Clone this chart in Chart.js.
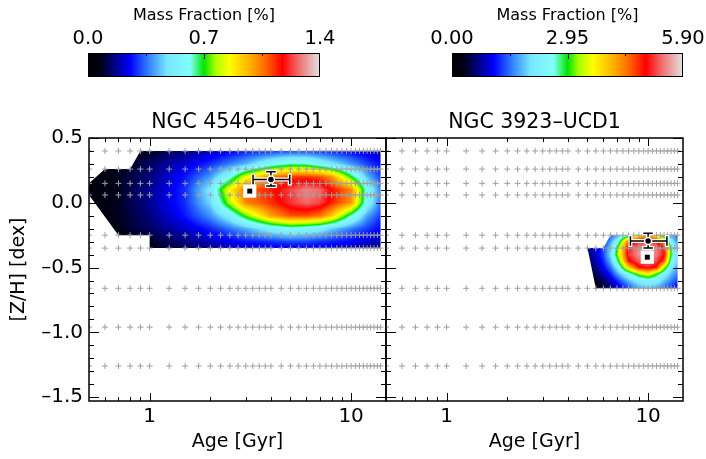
<!DOCTYPE html>
<html><head><meta charset="utf-8">
<script src="https://cdn.jsdelivr.net/npm/chart.js@4.4.0/dist/chart.umd.min.js"></script>
<style>
html,body{margin:0;padding:0;background:#fff;}
#wrap{position:relative;width:706px;height:459px;overflow:hidden;}
#wrap canvas{position:absolute;left:0;top:0;}
</style></head><body>
<div id="wrap"><canvas id="c1" width="706" height="459"></canvas><canvas id="c2" width="706" height="459"></canvas></div>
<script>
// ---------------- data ----------------
const modelAges = [0.5,0.6,0.7,0.8,0.9,1.0,1.25,1.5,1.75,2.0,2.25,2.5,2.75,3.0,3.25,3.5,3.75,4.0,4.5,5.0,5.5,6.0,6.5,7.0,7.5,8.0,8.5,9.0,9.5,10.0,10.5,11.0,11.5,12.0,12.5,13.0,13.5,14.0];
const modelMetals = [0.40,0.26,0.15,0.06,-0.25,-0.35,-0.66,-0.96,-1.26];

const xMajorTicks = [1, 10];
const xTickLabels = ['1', '10'];
const xMinorTicks = [0.6,0.7,0.8,0.9,2,3,4,5,6,7,8,9];
const yMajorTicks = [-1.5,-1.0,-0.5,0.0,0.5];
const yTickLabels = ['\u20131.5','\u20131.0','\u20130.5','0.0','0.5'];
const yMinorTicks = [-1.4,-1.3,-1.2,-1.1,-0.9,-0.8,-0.7,-0.6,-0.4,-0.3,-0.2,-0.1,0.1,0.2,0.3,0.4];

// Panel 1 : NGC 4546-UCD1
const title1 = 'NGC 4546\u2013UCD1';
const cbLabels1 = ['0.0','0.7','1.4'];
const cbMax1 = 1.4;
const mapAges1 = [0.5,0.7,1,1.5,2,2.5,3,4,5,6,7,8,10,12,14];
const mapMetals1 = [0.40,0.30,0.20,0.10,0.00,-0.10,-0.20,-0.30,-0.35];
const massFraction1 = [
  [0.03,0.04,0.08,0.15,0.20,0.24,0.27,0.29,0.31,0.31,0.29,0.28,0.25,0.22,0.18],
  [0.03,0.07,0.13,0.22,0.29,0.36,0.42,0.57,0.64,0.63,0.56,0.49,0.39,0.31,0.26],
  [0.04,0.08,0.15,0.27,0.39,0.59,0.84,1.05,1.12,1.13,1.10,1.02,0.70,0.43,0.31],
  [0.04,0.08,0.17,0.29,0.50,0.87,1.07,1.15,1.24,1.30,1.27,1.17,1.04,0.58,0.36],
  [0.04,0.08,0.17,0.29,0.46,0.78,1.04,1.13,1.22,1.27,1.24,1.15,1.02,0.56,0.35],
  [0.04,0.08,0.15,0.27,0.38,0.53,0.73,1.00,1.10,1.10,1.06,0.95,0.63,0.40,0.30],
  [0.03,0.07,0.13,0.21,0.28,0.35,0.41,0.53,0.59,0.56,0.52,0.45,0.36,0.30,0.25],
  [0.03,0.04,0.08,0.15,0.20,0.24,0.27,0.29,0.31,0.31,0.29,0.28,0.25,0.22,0.18],
  [0.03,0.03,0.07,0.13,0.15,0.20,0.21,0.24,0.24,0.24,0.24,0.22,0.20,0.17,0.15]
];
const regionAges1   = [0.5, 0.6, 0.8, 0.9, 14, 14, 1.0, 1.0, 0.7, 0.5];
const regionMetals1 = [0.15,0.26,0.26,0.40,0.40,-0.35,-0.35,-0.25,-0.25,0.06];
const fitAge1 = [4.0], fitAgeLo1 = [3.26], fitAgeHi1 = [4.96];
const fitZ1 = [0.18], fitZLo1 = [0.13], fitZHi1 = [0.24];
const altAge1 = [3.14], altZ1 = [0.09];

// Panel 2 : NGC 3923-UCD1
const title2 = 'NGC 3923\u2013UCD1';
const cbLabels2 = ['0.00','2.95','5.90'];
const cbMax2 = 5.9;
const mapAges2 = [5,5.5,6,6.5,7,8,9,10,11,12,13,14];
const mapMetals2 = [-0.25,-0.30,-0.35,-0.40,-0.45,-0.50,-0.55,-0.60,-0.66];
const massFraction2 = [
  [0.45,0.70,1.00,1.35,1.70,2.66,3.84,4.19,3.60,2.36,1.71,1.36],
  [0.52,0.80,1.20,1.65,2.30,4.60,5.13,5.25,5.07,4.13,2.24,1.59],
  [0.60,0.90,1.30,1.90,2.95,5.07,5.49,5.61,5.43,4.96,2.83,1.77],
  [0.58,0.88,1.32,1.95,3.07,5.13,5.55,5.66,5.43,5.02,2.95,1.90],
  [0.50,0.80,1.20,1.75,2.66,4.90,5.31,5.43,5.25,4.66,2.60,1.85],
  [0.40,0.66,1.02,1.45,2.07,3.89,4.90,5.07,4.84,3.30,2.10,1.70],
  [0.30,0.52,0.80,1.15,1.60,2.40,3.20,3.60,3.00,2.30,1.80,1.50],
  [0.20,0.35,0.58,0.85,1.20,1.80,2.20,2.35,2.20,1.85,1.55,1.30],
  [0.10,0.18,0.35,0.55,0.85,1.30,1.70,1.85,1.70,1.45,1.20,1.00]
];
const regionAges2   = [6.5, 14, 14, 5.5, 5.0, 6.0];
const regionMetals2 = [-0.25,-0.25,-0.66,-0.66,-0.35,-0.35];
const fitAge2 = [10.0], fitAgeLo2 = [8.17], fitAgeHi2 = [12.4];
const fitZ2 = [-0.295], fitZLo2 = [-0.35], fitZHi2 = [-0.235];
const altAge2 = [9.91], altZ2 = [-0.42];

// ---------------- styling helpers ----------------
const CMAP = [[0,0,0,0],[0.05,0,0,20],[0.10,0,0,110],[0.18,0,0,255],[0.26,50,130,255],[0.34,120,230,255],
  [0.44,130,255,250],[0.50,0,230,0],[0.55,170,255,0],[0.61,255,255,0],[0.70,255,175,0],[0.77,255,100,0],
  [0.84,255,0,0],[0.91,240,110,110],[1.00,225,225,225]];
function cmap(f){
  f = Math.max(0, Math.min(1, f));
  for (let i=0;i<CMAP.length-1;i++){
    const a=CMAP[i], b=CMAP[i+1];
    if (f<=b[0]){ const t=(f-a[0])/(b[0]-a[0]); return [a[1]+(b[1]-a[1])*t, a[2]+(b[2]-a[2])*t, a[3]+(b[3]-a[3])*t]; }
  }
  const l=CMAP[CMAP.length-1]; return [l[1],l[2],l[3]];
}
function bracket(arr, v){
  const n=arr.length, asc=arr[n-1]>arr[0];
  for (let i=0;i<n-1;i++){
    const lo=Math.min(arr[i],arr[i+1]), hi=Math.max(arr[i],arr[i+1]);
    if (v>=lo && v<=hi) return [i,(v-arr[i])/(arr[i+1]-arr[i])];
  }
  if ((asc && v<arr[0]) || (!asc && v>arr[0])) return [0,0];
  return [n-2,1];
}
function drawHeat(chart, P){
  const {ctx, chartArea:ca, scales:{x,y}} = chart;
  const L=Math.floor(ca.left), T=Math.floor(ca.top), W=Math.ceil(ca.right)-L, H=Math.ceil(ca.bottom)-T;
  const off=document.createElement('canvas'); off.width=W; off.height=H;
  const octx=off.getContext('2d'); const img=octx.createImageData(W,H); const d=img.data;
  const la=P.mapAges.map(Math.log10);
  const cols=[];
  for (let i=0;i<W;i++) cols.push(bracket(la, Math.log10(x.getValueForPixel(L+i+0.5))));
  for (let j=0;j<H;j++){
    const [r,u]=bracket(P.mapMetals, y.getValueForPixel(T+j+0.5));
    const row0=P.massFraction[r], row1=P.massFraction[r+1];
    for (let i=0;i<W;i++){
      const [c,t]=cols[i];
      const v0=row0[c]+(row0[c+1]-row0[c])*t, v1=row1[c]+(row1[c+1]-row1[c])*t;
      const col=cmap((v0+(v1-v0)*u)/P.cbMax);
      const k=(j*W+i)*4; d[k]=col[0]; d[k+1]=col[1]; d[k+2]=col[2]; d[k+3]=255;
    }
  }
  octx.putImageData(img,0,0);
  ctx.save(); ctx.beginPath();
  P.regionAges.forEach((a,k)=>{ const px=x.getPixelForValue(a), py=y.getPixelForValue(P.regionMetals[k]); if(k===0) ctx.moveTo(px,py); else ctx.lineTo(px,py); });
  ctx.closePath(); ctx.clip(); ctx.drawImage(off,L,T); ctx.restore();
}
function drawErrorBars(chart, P){
  const {ctx, scales:{x,y}} = chart;
  P.fitAge.forEach((a,k)=>{
    const px=x.getPixelForValue(a), py=y.getPixelForValue(P.fitZ[k]);
    const x1=x.getPixelForValue(P.fitAgeLo[k]), x2=x.getPixelForValue(P.fitAgeHi[k]);
    const y1=y.getPixelForValue(P.fitZLo[k]), y2=y.getPixelForValue(P.fitZHi[k]);
    const cap=4;
    ctx.save(); ctx.beginPath();
    ctx.moveTo(x1,py); ctx.lineTo(x2,py);
    ctx.moveTo(x1,py-cap); ctx.lineTo(x1,py+cap);
    ctx.moveTo(x2,py-cap); ctx.lineTo(x2,py+cap);
    ctx.moveTo(px,y1); ctx.lineTo(px,y2);
    ctx.moveTo(px-cap,y1); ctx.lineTo(px+cap,y1);
    ctx.moveTo(px-cap,y2); ctx.lineTo(px+cap,y2);
    ctx.lineCap='square';
    ctx.strokeStyle='#fff'; ctx.lineWidth=4; ctx.stroke();
    ctx.strokeStyle='#000'; ctx.lineWidth=1.5; ctx.stroke();
    ctx.restore();
  });
}
function drawFrame(chart){
  const {ctx, chartArea:ca, scales:{x,y}} = chart;
  ctx.save(); ctx.strokeStyle='#000'; ctx.lineWidth=1; ctx.beginPath();
  const tx=(v,len)=>{const px=Math.round(x.getPixelForValue(v))+0.5; ctx.moveTo(px,ca.bottom); ctx.lineTo(px,ca.bottom-len); ctx.moveTo(px,ca.top); ctx.lineTo(px,ca.top+len);};
  xMajorTicks.forEach(v=>tx(v,8)); xMinorTicks.forEach(v=>tx(v,4));
  const ty=(v,len)=>{const py=Math.round(y.getPixelForValue(v))+0.5; ctx.moveTo(ca.left,py); ctx.lineTo(ca.left+len,py); ctx.moveTo(ca.right,py); ctx.lineTo(ca.right-len,py);};
  yMajorTicks.forEach(v=>ty(v,10)); yMinorTicks.forEach(v=>ty(v,5));
  ctx.stroke();
  ctx.lineWidth=1.5; ctx.strokeRect(ca.left,ca.top,ca.right-ca.left,ca.bottom-ca.top);
  ctx.restore();
}
function drawColorbar(chart, P){
  const ctx=chart.ctx, x0=P.cbLeft, x1=P.cbRight, y0=53, y1=77, w=x1-x0;
  ctx.save();
  for (let i=0;i<w;i++){ const c=cmap(i/(w-1)); ctx.fillStyle='rgb('+Math.round(c[0])+','+Math.round(c[1])+','+Math.round(c[2])+')'; ctx.fillRect(x0+i,y0,1,y1-y0); }
  ctx.strokeStyle='#000'; ctx.lineWidth=1; ctx.strokeRect(x0+0.5,y0+0.5,w-1,y1-y0-1);
  ctx.beginPath();
  [0.25,0.5,0.75].forEach(q=>{ const px=Math.round(x0+q*w)+0.5; ctx.moveTo(px,y0); ctx.lineTo(px,y0+(q===0.5?6:3)); });
  ctx.stroke();
  ctx.fillStyle='#000'; ctx.textAlign='center'; ctx.textBaseline='middle';
  ctx.font="19.5px 'DejaVu Sans', sans-serif";
  ctx.fillText(P.cbLabels[0], x0, 39); ctx.fillText(P.cbLabels[1], (x0+x1)/2, 39); ctx.fillText(P.cbLabels[2], x1, 39);
  ctx.font="16px 'DejaVu Sans', sans-serif";
  ctx.fillText('Mass Fraction [%]', (x0+x1)/2, 16);
  ctx.restore();
}
function panelPlugin(P){
  return {
    id:'panel'+P.id,
    beforeDatasetsDraw(chart){ drawHeat(chart,P); },
    beforeDatasetDraw(chart,args){ if(args.index===0) drawErrorBars(chart,P); },
    afterDraw(chart){ drawFrame(chart); drawColorbar(chart,P); }
  };
}

Chart.defaults.font.family = "'DejaVu Sans', sans-serif";
Chart.defaults.color = '#000';

const gridPoints = [];
modelMetals.forEach(z=>modelAges.forEach(a=>gridPoints.push({x:a,y:z})));

function makeChart(id, P){
  return new Chart(document.getElementById(id), {
    type:'scatter',
    data:{datasets:[
      {data:P.fitAge.map((a,k)=>({x:a,y:P.fitZ[k]})), pointStyle:'circle', pointRadius:3.5, pointBackgroundColor:'#000', pointBorderColor:'#fff', pointBorderWidth:1.5, clip:false},
      {data:P.altAge.map((a,k)=>({x:a,y:P.altZ[k]})), pointStyle:'rect', pointRadius:3.5, pointBackgroundColor:'#000', pointBorderWidth:0, clip:false},
      {data:P.altAge.map((a,k)=>({x:a,y:P.altZ[k]})), pointStyle:'rect', pointRadius:9.3, pointBackgroundColor:'#fff', pointBorderWidth:0, clip:false},
      {data:gridPoints, pointStyle:'cross', pointRadius:3, pointBorderColor:'#a0a0a0', pointBackgroundColor:'#a0a0a0', pointBorderWidth:1}
    ]},
    options:{
      responsive:false, animation:false, devicePixelRatio:1, events:[],
      layout:{padding:{left:P.padLeft, right:P.padRight, top:104, bottom:0}},
      plugins:{
        legend:{display:false}, tooltip:{enabled:false},
        title:{display:true, text:P.title, fullSize:false, color:'#000', font:{size:20.5, weight:'normal'}, padding:{top:6,bottom:3.4}}
      },
      scales:{
        x:{type:'logarithmic', min:0.5, max:14.9, bounds:'data',
           grid:{display:false, drawTicks:false}, border:{display:false},
           afterBuildTicks:s=>{ s.ticks = xMajorTicks.map(v=>({value:v})); },
           ticks:{callback:(v,i)=>xTickLabels[i], color:'#000', font:{size:20}, padding:4, maxRotation:0, autoSkip:false},
           title:{display:true, text:'Age [Gyr]', color:'#000', font:{size:19}, padding:{top:0,bottom:6}},
           afterFit:s=>{ s.height=58; }},
        y:{type:'linear', min:-1.53, max:0.5, bounds:'data', display:P.showY,
           grid:{display:false, drawTicks:false}, border:{display:false},
           afterBuildTicks:s=>{ s.ticks = yMajorTicks.map(v=>({value:v})); },
           ticks:{callback:(v,i)=>yTickLabels[i], color:'#000', font:{size:20}, padding:6, autoSkip:false},
           title:{display:true, text:'[Z/H] [dex]', color:'#000', font:{size:19}, padding:{top:8,bottom:0}},
           afterFit:s=>{ s.width = P.showY ? 89 : 0; }}
      }
    },
    plugins:[panelPlugin(P)]
  });
}

makeChart('c1', {id:1, title:title1, cbLabels:cbLabels1, cbMax:cbMax1, mapAges:mapAges1, mapMetals:mapMetals1,
  massFraction:massFraction1, regionAges:regionAges1, regionMetals:regionMetals1,
  fitAge:fitAge1, fitAgeLo:fitAgeLo1, fitAgeHi:fitAgeHi1, fitZ:fitZ1, fitZLo:fitZLo1, fitZHi:fitZHi1,
  altAge:altAge1, altZ:altZ1, padLeft:0, padRight:320, cbLeft:88, cbRight:320, showY:true});
makeChart('c2', {id:2, title:title2, cbLabels:cbLabels2, cbMax:cbMax2, mapAges:mapAges2, mapMetals:mapMetals2,
  massFraction:massFraction2, regionAges:regionAges2, regionMetals:regionMetals2,
  fitAge:fitAge2, fitAgeLo:fitAgeLo2, fitAgeHi:fitAgeHi2, fitZ:fitZ2, fitZLo:fitZLo2, fitZHi:fitZHi2,
  altAge:altAge2, altZ:altZ2, padLeft:386, padRight:23, cbLeft:452, cbRight:683, showY:false});
</script>
</body></html>
